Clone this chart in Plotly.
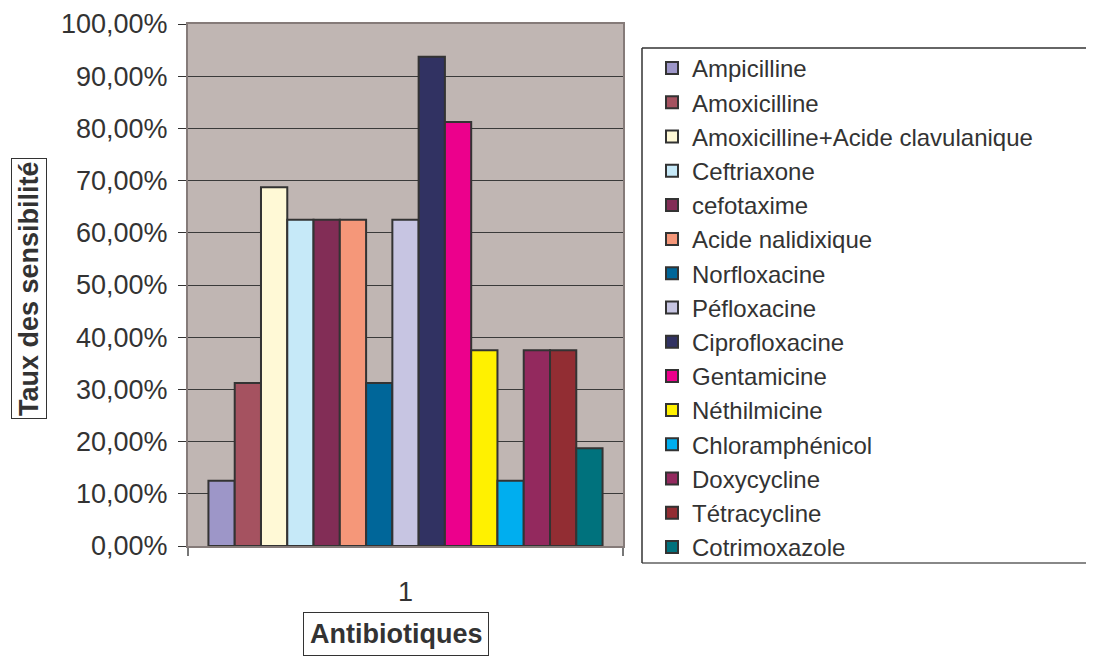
import plotly.graph_objects as go

categories = ["1"]
antibiotics = [
    "Ampicilline", "Amoxicilline", "Amoxicilline+Acide clavulanique",
    "Ceftriaxone", "cefotaxime", "Acide nalidixique", "Norfloxacine",
    "Péfloxacine", "Ciprofloxacine", "Gentamicine", "Néthilmicine",
    "Chloramphénicol", "Doxycycline", "Tétracycline", "Cotrimoxazole",
]
rates = [
    0.125, 0.3125, 0.6875, 0.625, 0.625, 0.625, 0.3125,
    0.625, 0.9375, 0.8125, 0.375, 0.125, 0.375, 0.375, 0.1875,
]
colors = [
    "#9d96c8", "#a55260", "#fff9d6", "#c6e9f8", "#822d56", "#f59779", "#006699",
    "#c7c5e2", "#313262", "#ec008c", "#fff100", "#00aeef", "#93295e", "#922d33",
    "#00727d",
]
y_ticks = [i / 10 for i in range(11)]

FONT = "Liberation Sans, Arial, sans-serif"
# the page body has an 8px margin, so work in page pixels and offset
OFF = 8
W, H = 1094 - OFF, 657 - OFF
L, R, T, B = 188, 623, 24, 546


def px_x(p):
    return (p - L) / (R - L)


def px_y(p):
    return (B - p) / (B - T)


fig = go.Figure()
for name, val, col in zip(antibiotics, rates, colors):
    fig.add_trace(go.Bar(
        x=categories, y=[val], name=name,
        marker=dict(color=col, line=dict(color="#333333", width=2)),
    ))

# legend frame: open on the right, it runs off the page
box_l, box_r, box_t, box_b = px_x(642), px_x(1200), px_y(48), px_y(563)
frame = dict(type="line", xref="paper", yref="paper",
             line=dict(color="#333333", width=1.5))
legend_frame = [
    dict(frame, x0=box_l, x1=box_r, y0=box_t, y1=box_t),
    dict(frame, x0=box_l, x1=box_r, y0=box_b, y1=box_b,
         line=dict(color="#888888", width=2)),
    dict(frame, x0=box_l, x1=box_l, y0=box_b, y1=box_t),
]

fig.update_layout(
    width=W, height=H,
    margin=dict(l=L - OFF, r=1094 - R, t=T - OFF, b=657 - B, autoexpand=False),
    paper_bgcolor="white",
    plot_bgcolor="#c0b6b3",
    barmode="group",
    bargap=0.094,
    bargroupgap=0,
    separators=", ",
    font=dict(family=FONT, color="#333333"),
    showlegend=True,
    legend=dict(
        x=px_x(652), y=px_y(46), xanchor="left", yanchor="top",
        font=dict(size=24, family=FONT, color="#333333"),
        bgcolor="rgba(0,0,0,0)", borderwidth=0,
        traceorder="normal", maxheight=620,
    ),
    xaxis=dict(
        type="category", range=[-0.5, 0.5], automargin=False,
        tickson="boundaries", ticks="outside", ticklen=8, tickcolor="#777",
        tickwidth=2,
        showline=True, linecolor="#857b79", linewidth=2, mirror=True,
        tickfont=dict(size=27, color="#333333"),
        ticklabelstandoff=21,
        showgrid=False,
    ),
    yaxis=dict(
        range=[0, 1], tickvals=y_ticks, tickformat=".2%", automargin=False,
        ticks="outside", ticklen=8, tickcolor="#333333",
        showline=True, linecolor="#857b79", linewidth=2, mirror=True,
        gridcolor="#3a3a3a", gridwidth=1,
        tickfont=dict(size=27, color="#333333"),
        ticklabelstandoff=5,
        zeroline=False,
    ),
    shapes=legend_frame,
    annotations=[
        dict(
            text="<b>Taux des sensibilité</b>", textangle=-90,
            xref="paper", yref="paper", x=px_x(29), y=px_y(289),
            xanchor="center", yanchor="middle",
            showarrow=False, font=dict(size=27, family=FONT, color="#333333"),
            bordercolor="#333333", borderwidth=1, borderpad=2, bgcolor="white",
        ),
        dict(
            text="<b>Antibiotiques</b>",
            xref="paper", yref="paper", x=px_x(396), y=px_y(612),
            xanchor="center", yanchor="top",
            showarrow=False, font=dict(size=27, family=FONT, color="#333333"),
            bordercolor="#333333", borderwidth=1, borderpad=6, bgcolor="white",
        ),
    ],
)

fig.write_html("out.html")
